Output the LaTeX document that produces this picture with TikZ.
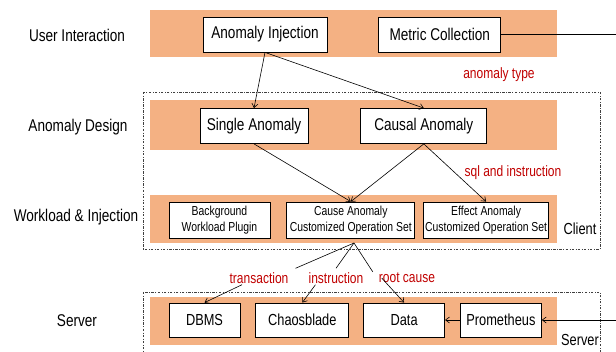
\documentclass[tikz,border=0pt]{standalone}
\usepackage{fontspec}
\setmainfont{Liberation Sans}[FakeStretch=0.8]
\usetikzlibrary{
  positioning,
  arrows.meta
}
\definecolor{bandorange}{HTML}{F4B183}
\definecolor{notered}{HTML}{C00000}
\tikzset{
  >={Straight Barb[length=4pt, width=6pt]},
  band/.style={fill=bandorange},
  group/.style={draw=black!75, line width=0.6pt, dash pattern=on 2.5pt off 1.5pt on 0.6pt off 1.5pt},
  box/.style={draw, fill=white, line width=0.8pt, inner sep=0pt, minimum height=35pt, font=\fontsize{17}{19}\selectfont},
  smallbox/.style={box, minimum height=36pt, align=center, font=\fontsize{13}{15.5}\selectfont},
  srvbox/.style={box, minimum height=34pt, font=\fontsize{16}{18}\selectfont},
  layer/.style={font=\fontsize{17}{19}\selectfont},
  tag/.style={text=notered, inner sep=1pt, font=\fontsize{15}{17}\selectfont},
  link/.style={line width=0.6pt}
}

\begin{document}
\begin{tikzpicture}[x=1pt, y=-1pt]
  \useasboundingbox (0,0) rectangle (616,352);
  % orange bands
  \fill[band] (150,10) rectangle (557,57);
  \fill[band] (150,100) rectangle (557,150);
  \fill[band] (150,195) rectangle (557,243);
  \fill[band] (150,297) rectangle (557,345);
  % client and server groups
  \draw[group] (143,92) rectangle (600,249);
  \draw[group] (143,292) rectangle (600,362);

  % layer names
  \node[layer] (lui) at (77,35) {User Interaction};
  \node[layer] (lad) at (78,127) {Anomaly Design};
  \node[layer] (lwi) at (76,217) {Workload \& Injection};
  \node[layer] (lsv) at (77,321) {Server};
  \node[layer, font=\fontsize{16}{18}\selectfont] (client) at (580,229) {Client};
  \node[layer, font=\fontsize{16}{18}\selectfont] (server) at (580,340) {Server};

  % boxes
  \node[box, minimum width=124pt] (inj) at (265,34.5) {Anomaly Injection};
  \node[box, minimum width=122pt, right=51pt of inj] (met) {Metric Collection};
  \node[box, minimum width=108pt] (single) at (254,126) {Single Anomaly};
  \node[box, minimum width=126pt, right=52pt of single] (causal) {Causal Anomaly};
  \node[smallbox, minimum width=101pt] (bg) at (219.5,220) {Background\\Workload Plugin};
  \node[smallbox, minimum width=128pt, right=16pt of bg] (cause) {Cause Anomaly\\Customized Operation Set};
  \node[smallbox, minimum width=125pt, right=8pt of cause] (effect) {Effect Anomaly\\Customized Operation Set};
  \node[srvbox, minimum width=71pt] (dbms) at (204.5,320) {DBMS};
  \node[srvbox, minimum width=93pt, right=15pt of dbms] (chaos) {Chaosblade};
  \node[srvbox, minimum width=81pt, right=14pt of chaos] (data) {Data};
  \node[srvbox, minimum width=81pt, right=15pt of data] (prom) {Prometheus};

  % red notes
  \node[tag] (atype) at (499,75) {anomaly type};
  \node[tag] (sqlins) at (513,173) {sql and instruction};
  \node[tag] (trans) at (259,278) {transaction};
  \node[tag] (instr) at (336,278) {instruction};
  \node[tag] (root) at (407,278) {root cause};

  \coordinate (fork) at (354,243);
  \coordinate (mout) at (616,34.5);
  \coordinate (pin) at (616,320);

  % connectors
  \draw[link, ->] (inj.south) -- (single.north);
  \draw[link, ->] (inj.south) -- (causal.north);
  \draw[link, ->] (single.south) -- (cause.north);
  \draw[link, ->] (causal.south) -- (cause.north);
  \draw[link, ->] (causal.south) -- (effect.north);
  \draw[link] (met.east) -- (mout);
  \draw[link] (fork) -- ([xshift=6pt, yshift=3pt]trans.north east);
  \draw[link] (fork) -- ([yshift=3pt]instr.north);
  \draw[link] (fork) -- ([xshift=-5pt]root.north west);
  \draw[link, ->] ([xshift=-17pt]trans.south) -- (dbms.north);
  \draw[link, ->] ([xshift=8pt]instr.south west) -- (chaos.north);
  \draw[link, ->] ([xshift=4pt, yshift=6pt]root.south west) -- (data.north);
  \draw[link, ->] (prom.west) -- (data.east);
  \draw[link, ->] (pin) -- (prom.east);
\end{tikzpicture}
\end{document}
